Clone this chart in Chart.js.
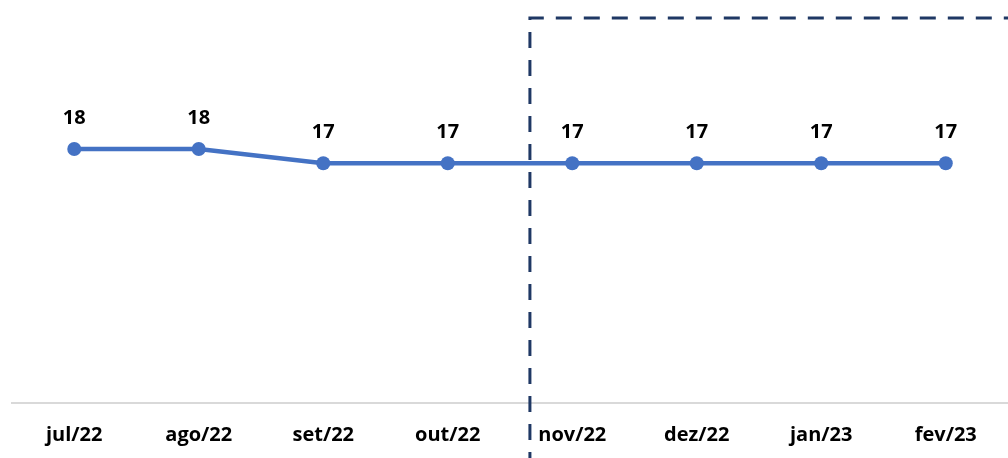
<!DOCTYPE html>
<html>
<head>
<meta charset="utf-8">
<script src="https://cdn.jsdelivr.net/npm/chart.js@4/dist/chart.umd.min.js"></script>
<style>
    html, body { margin: 0; padding: 0; background: #ffffff; overflow: hidden; }
    #wrap { width: 1008px; height: 458px; position: relative; }
</style>
</head>
<body>
<div id="wrap"><canvas id="lineChart"></canvas></div>
<script>
// ========================================
// DATA
// ========================================
const meses = ['jul/22', 'ago/22', 'set/22', 'out/22', 'nov/22', 'dez/22', 'jan/23', 'fev/23'];
const valores = [18, 18, 17, 17, 17, 17, 17, 17];

// caixa tracejada (projecao): comeca entre out/22 e nov/22
const caixaInicio = 3.66;   // posicao no eixo de categorias
const caixaTopo = 27.3;     // valor no eixo y

const azul = '#4472C4';
const marinho = '#1F3864';
const fonte = '"Open Sans", Lato, sans-serif';

// ========================================
// PLUGINS
// ========================================
const rotulosPlugin = {
    id: 'rotulos',
    afterDatasetsDraw(chart) {
        const ctx = chart.ctx;
        const meta = chart.getDatasetMeta(0);
        ctx.save();
        ctx.font = 'bold 20px ' + fonte;
        ctx.fillStyle = '#000000';
        ctx.textAlign = 'center';
        ctx.textBaseline = 'alphabetic';
        meta.data.forEach((pt, i) => {
            ctx.fillText(String(valores[i]), pt.x, pt.y - 25);
        });
        ctx.restore();
    }
};

const caixaPlugin = {
    id: 'caixa',
    afterDraw(chart) {
        const ctx = chart.ctx;
        const x = chart.scales.x.getPixelForValue(caixaInicio);
        const y = chart.scales.y.getPixelForValue(caixaTopo);
        ctx.save();
        ctx.strokeStyle = marinho;
        ctx.lineWidth = 3;
        ctx.setLineDash([16, 12]);
        ctx.beginPath();
        ctx.moveTo(x, chart.height + 10);
        ctx.lineTo(x, y);
        ctx.lineTo(chart.width + 10, y);
        ctx.stroke();
        ctx.restore();
    }
};

// ========================================
// CHART
// ========================================
new Chart(document.getElementById('lineChart').getContext('2d'), {
    type: 'line',
    data: {
        labels: meses,
        datasets: [{
            data: valores,
            borderColor: azul,
            backgroundColor: azul,
            borderWidth: 4.5,
            pointRadius: 7,
            pointHoverRadius: 7,
            pointBackgroundColor: azul,
            pointBorderWidth: 0,
            tension: 0
        }]
    },
    options: {
        responsive: true,
        maintainAspectRatio: false,
        animation: false,
        layout: { autoPadding: false, padding: { left: 12, right: 0, top: 8, bottom: -9 } },
        plugins: {
            legend: { display: false },
            tooltip: { enabled: false }
        },
        scales: {
            y: {
                display: false,
                min: 0,
                max: 28
            },
            x: {
                offset: true,
                grid: { display: false, drawTicks: false },
                border: { display: true, color: '#d9d9d9', width: 2 },
                ticks: {
                    padding: 20,
                    color: '#000000',
                    font: { family: fonte, size: 20, weight: 'bold' },
                    maxRotation: 0,
                    autoSkip: false
                },
                afterFit(scale) {
                    scale.paddingLeft = 0;
                    scale.paddingRight = 0;
                }
            }
        }
    },
    plugins: [rotulosPlugin, caixaPlugin]
});
</script>
</body>
</html>
